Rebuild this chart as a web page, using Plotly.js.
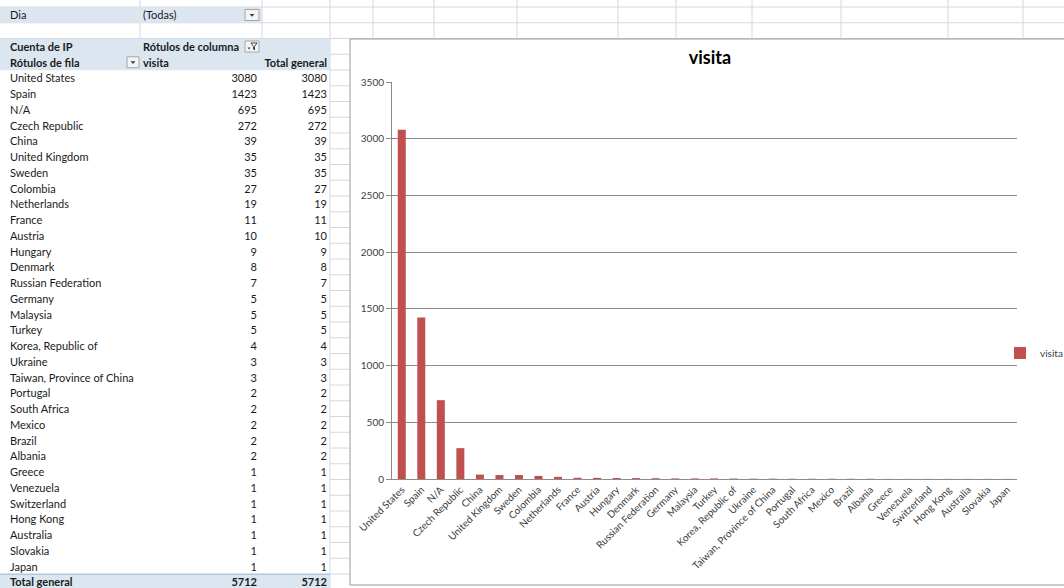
<!DOCTYPE html>
<html><head><meta charset="utf-8">
<script src="https://cdn.plot.ly/plotly-3.0.1.min.js"></script>
<style>html,body{margin:0;padding:0;background:#fff;}#chart{width:1064px;height:588px;}</style>
</head><body><div id="chart"></div>
<script>
// ---- data ----
const countries = ["United States","Spain","N/A","Czech Republic","China","United Kingdom","Sweden","Colombia","Netherlands","France","Austria","Hungary","Denmark","Russian Federation","Germany","Malaysia","Turkey","Korea, Republic of","Ukraine","Taiwan, Province of China","Portugal","South Africa","Mexico","Brazil","Albania","Greece","Venezuela","Switzerland","Hong Kong","Australia","Slovakia","Japan"];
const visits = [3080,1423,695,272,39,35,35,27,19,11,10,9,8,7,5,5,5,4,3,3,2,2,2,2,2,1,1,1,1,1,1,1];
const totalGeneral = 5712;
const seriesName = "visita";
const chartTitle = "visita";
const filterLabel = "Dia";
const filterValue = "(Todas)";
const valueLabel = "Cuenta de IP";
const colLabelsHeader = "Rótulos de columna";
const rowLabelsHeader = "Rótulos de fila";
const totalLabel = "Total general";
const yTicks = [0,500,1000,1500,2000,2500,3000,3500];

// ---- layout helpers ----
const W = 1064, H = 588;
const px = x => x / W;
const py = y => 1 - y / H;
const FONT = "Lato, 'Liberation Sans', sans-serif";
const TXT = "#1a1a1a";
const ROW_H = 15.75, ROW0 = 15;           // pixel height of a sheet row, centre of first row
const GRID = "#d5d8de";
const PIV = "#dce6f1";
const TXT_DY = 1.5 / ROW_H;               // small downward nudge of text inside a row

// rows of the pivot table (row index on the table axis)
const dataRows = countries.map((_, i) => i + 4);
const totalRow = dataRows.length + 4;

function textTrace(x, y, text, pos, bold) {
  return {
    type: "scatter", mode: "text", xaxis: "x2", yaxis: "y2",
    x: x, y: y.map(r => r + TXT_DY), text: text, textposition: pos,
    textfont: {family: FONT, size: 11, color: TXT, weight: bold ? 700 : 400},
    hoverinfo: "skip", showlegend: false, cliponaxis: false
  };
}

const colA = 10, colBl = 143, colBr = 257, colCr = 327;

const traces = [
  {
    type: "bar", name: seriesName, x: countries, y: visits,
    marker: {color: "#c0504d", line: {width: 0}},
    xaxis: "x", yaxis: "y", hoverinfo: "skip"
  },
  textTrace([colA].concat(countries.map(() => colA)), [0].concat(dataRows), [filterLabel].concat(countries), "middle right", false),
  textTrace([colA, colA, colA], [2, 3, totalRow], [valueLabel, rowLabelsHeader, totalLabel], "middle right", true),
  textTrace([colBl], [0], [filterValue], "middle right", false),
  textTrace([colBl, colBl], [2, 3], [colLabelsHeader, seriesName], "middle right", true),
  textTrace(visits.map(() => colBr), dataRows, visits.map(String), "middle left", false),
  textTrace(visits.map(() => colCr), dataRows, visits.map(String), "middle left", false),
  textTrace([colCr, colBr, colCr], [3, totalRow, totalRow], [totalLabel, String(totalGeneral), String(totalGeneral)], "middle left", true)
];

// ---- decorative shapes: sheet grid, pivot fills, chart frame ----
const shapes = [];
const gridLine = (x0, y0, x1, y1) => shapes.push({type: "line", xref: "paper", yref: "paper", x0: px(x0), y0: py(y0), x1: px(x1), y1: py(y1), line: {color: GRID, width: 1}, layer: "below"});
for (let k = 0; k < 38; k++) {
  const y = 7 + k * ROW_H;
  gridLine(k < 3 ? 0 : 330, y, W, y);
}
[140, 262].forEach(x => gridLine(x, 0, x, 38.5));
gridLine(330, 0, 330, H);
[373, 434, 517, 618, 676, 752, 841, 948, 1023].forEach(x => gridLine(x, 0, x, 40));
// chart frame
shapes.push({type: "rect", xref: "paper", yref: "paper", x0: px(350), x1: px(1080), y0: py(39), y1: py(585), fillcolor: "#ffffff", line: {color: "#9a9a9a", width: 1}, layer: "below"});

// pivot fills (table axis: x in px, y in rows)
const fill = (x0, x1, r0, r1, c) => shapes.push({type: "rect", xref: "x2", yref: "y2", x0: x0, x1: x1, y0: r0 - 0.5, y1: r1 + 0.5, fillcolor: c, line: {width: 0}, layer: "below"});
fill(0, 262, 0, 0, PIV);
fill(0, 330, 2, 3, PIV);
fill(0, 330, totalRow, totalRow, PIV);
shapes.push({type: "line", xref: "x2", yref: "y2", x0: 0, x1: 330, y0: totalRow - 0.5, y1: totalRow - 0.5, line: {color: "#95b3d7", width: 1}});

// dropdown / filter buttons
const pr = p => p / ROW_H;
function button(x0, x1, row, funnel) {
  shapes.push({type: "rect", xref: "x2", yref: "y2", x0: x0, x1: x1, y0: row - pr(5.5), y1: row + pr(5.5), fillcolor: "#f4f4f4", line: {color: "#a5a5a5", width: 1}});
  const cx = (x0 + x1) / 2;
  if (!funnel) {
    shapes.push({type: "path", xref: "x2", yref: "y2", path: `M${cx - 2.5},${row - pr(1)} L${cx + 2.5},${row - pr(1)} L${cx},${row + pr(1.8)} Z`, fillcolor: "#404040", line: {width: 0}});
  } else {
    shapes.push({type: "path", xref: "x2", yref: "y2", path: `M${cx - 1},${row - pr(3.5)} L${cx + 5},${row - pr(3.5)} L${cx + 2.5},${row} L${cx + 2.5},${row + pr(3.5)} L${cx + 1.5},${row + pr(2.5)} L${cx + 1.5},${row} Z`, fillcolor: "#ffffff", line: {color: "#404040", width: 1}});
    shapes.push({type: "path", xref: "x2", yref: "y2", path: `M${cx - 4.5},${row + pr(1)} L${cx - 1.5},${row + pr(1)} L${cx - 3},${row + pr(3)} Z`, fillcolor: "#404040", line: {width: 0}});
  }
}
button(245, 259, 0, false);
button(127, 139, 3, false);
button(245, 259, 2, true);

const layout = {
  width: W, height: H,
  margin: {l: 0, r: 0, t: 0, b: 0, autoexpand: false},
  paper_bgcolor: "#ffffff", plot_bgcolor: "rgba(0,0,0,0)",
  font: {family: FONT, color: "#404040", size: 10},
  title: {text: chartTitle, xref: "paper", yref: "paper", x: px(710), xanchor: "center", y: py(58), yanchor: "middle", font: {family: FONT, size: 18, color: "#000000", weight: 700}},
  bargap: 0.59,
  showlegend: true,
  legend: {x: px(1000), y: py(353), xanchor: "left", yanchor: "middle", bgcolor: "rgba(0,0,0,0)", font: {family: FONT, size: 10, color: "#404040"}},
  xaxis: {
    domain: [px(392), px(1017)], anchor: "y", type: "category",
    tickangle: -45, tickfont: {family: FONT, size: 10, color: "#404040"},
    showline: true, linecolor: "#8c8c8c", linewidth: 1, showgrid: false, ticks: "", fixedrange: true
  },
  yaxis: {
    domain: [py(479), py(82)], anchor: "x", range: [0, 3500], tickvals: yTicks,
    showgrid: true, gridcolor: "#8c8c8c", gridwidth: 1, zeroline: false,
    showline: true, linecolor: "#8c8c8c", ticks: "outside", ticklen: 5, tickcolor: "#8c8c8c",
    tickfont: {family: FONT, size: 10, color: "#404040"}, fixedrange: true
  },
  xaxis2: {domain: [0, px(330)], anchor: "y2", range: [0, 330], visible: false, fixedrange: true},
  yaxis2: {domain: [0, 1], anchor: "x2", range: [(H - ROW0) / ROW_H, -ROW0 / ROW_H], visible: false, fixedrange: true},
  shapes: shapes,
  hovermode: false
};

Plotly.newPlot("chart", traces, layout, {displayModeBar: false, staticPlot: true});
</script></body></html>
